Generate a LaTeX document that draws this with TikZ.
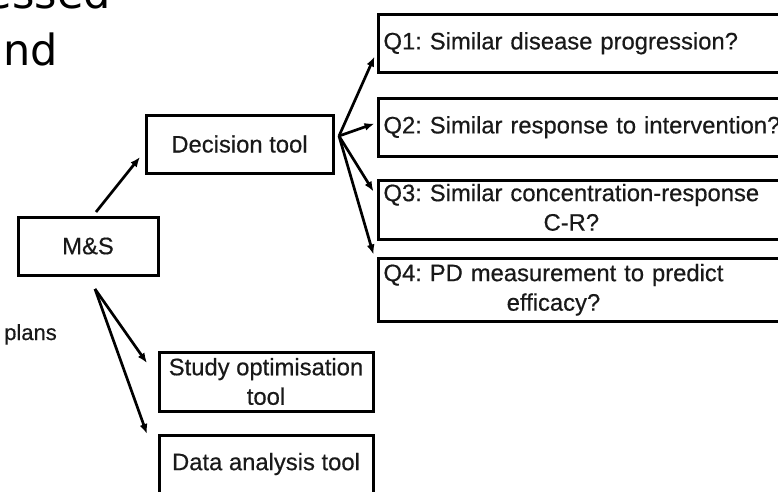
\documentclass[tikz,border=0pt]{standalone}
\usepackage{fontspec}
\setmainfont{Liberation Sans}
\newfontfamily\bigfont{DejaVu Sans}
\newfontfamily\boxfont[FakeBold=0.5]{Liberation Sans}
\usetikzlibrary{positioning}
\usetikzlibrary{calc}
\usetikzlibrary{arrows.meta}

\newcommand{\qtext}[1]{\begin{tabular}{@{}c@{}}#1\end{tabular}}

\begin{document}
\frenchspacing
\begin{tikzpicture}[
    x=1pt, y=-1pt,
    >={Latex[length=10pt,width=8pt]},
    % node styles
    box/.style = {
      draw,
      line width=3pt,
      minimum height=58pt,
      inner xsep=5pt,
      inner ysep=0pt,
      font=\boxfont\fontsize{23.8}{29.5}\selectfont,
      text=black!90
    },
    qbox/.style = {box, text width=413pt, align=left},
    tbox/.style = {box, minimum width=214pt, align=center},
    bigtext/.style = {inner sep=0pt, font=\bigfont\fontsize{43}{50}\selectfont},
    % arrow styles
    arr/.style = {->, line width=2.7pt}
  ]
  \useasboundingbox (0,0) rectangle (778,491);
  \clip (0,0) rectangle (778,491);

  % --- Text cut from the page
  \node[bigtext, anchor=base east] (essed) at (111,8) {essed};
  \node[bigtext, anchor=base east] (and) at (58,65) {and};
  \node[inner sep=0pt, anchor=base west, font=\boxfont\fontsize{22}{26}\selectfont,
    text=black!90] (plans) at (4,340) {plans};

  % --- Nodes
  \node[box, minimum width=140pt] (ms) at (88,246) {M\&S};
  \node[box, minimum width=187pt] (dec) at (239.5,144) {Decision tool};

  \node[qbox, anchor=north west] (q1) at (377,13)
    {\qtext{Q1: Similar disease progression?}};
  \node[qbox, below=23pt of q1] (q2)
    {\qtext{Q2: Similar response to intervention?}};
  \node[qbox, minimum height=59pt, below=21pt of q2] (q3)
    {\qtext{Q3: Similar concentration-response\\C-R?}};
  \node[qbox, minimum height=63pt, below=16pt of q3] (q4)
    {\qtext{Q4: PD measurement to predict\\efficacy?}};

  \node[tbox, minimum height=59pt] (study) at (266,381.5)
    {Study optimisation\\tool};
  \node[tbox, below=21pt of study] (data) {Data analysis tool};

  % --- Arrows
  \draw[arr] ($(ms.north)+(8,-3.5)$) -- ($(dec.west)+(-4.5,13)$);

  \coordinate (fan) at ($(dec.east)+(4.5,-8)$);
  \draw[arr] (fan) -- ($(q1.west)+(-2.5,13)$);
  \draw[arr] (fan) -- ($(q2.west)+(-2.5,-4)$);
  \draw[arr] (fan) -- ($(q3.west)+(-3.5,-18.5)$);
  \draw[arr] (fan) -- ($(q4.north west)+(-3.5,-2.5)$);

  \coordinate (split) at ($(ms.south)+(7,12.5)$);
  \draw[arr] (split) -- ($(study.west)+(-10.5,-18.5)$);
  \draw[arr] (split) -- ($(data.north west)+(-10.5,0.5)$);

\end{tikzpicture}
\end{document}
